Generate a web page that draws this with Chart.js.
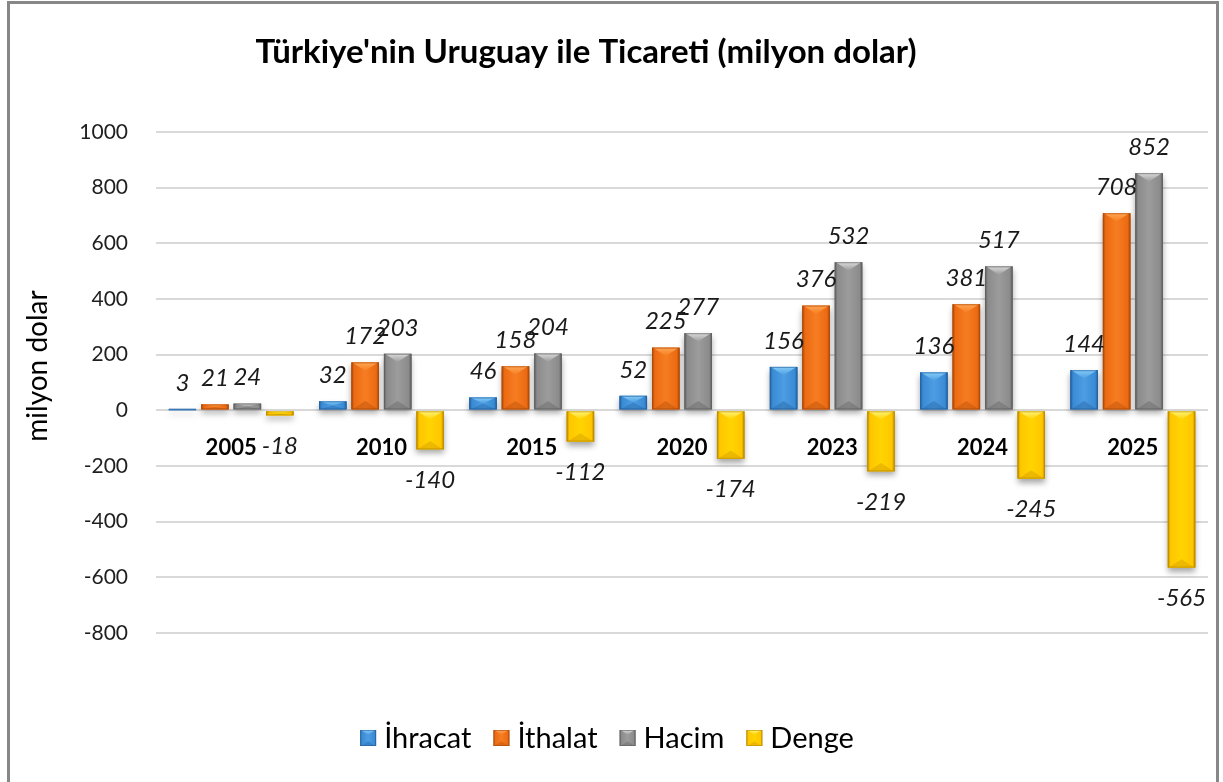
<!DOCTYPE html>
<html><head><meta charset="utf-8">
<style>html,body{margin:0;padding:0;background:#fff;overflow:hidden}</style>
<script src="https://cdn.jsdelivr.net/npm/chart.js@4.4.1/dist/chart.umd.min.js"></script>
</head><body>
<canvas id="c" width="1223" height="782"></canvas>
<script>
const titleText = "Türkiye'nin Uruguay ile Ticareti (milyon dolar)";
const yAxisTitle = "milyon dolar";
const categories = ['2005', '2010', '2015', '2020', '2023', '2024', '2025'];
const seriesNames = ['İhracat', 'İthalat', 'Hacim', 'Denge'];
const ihracat = [3, 32, 46, 52, 156, 136, 144];
const ithalat = [21, 172, 158, 225, 376, 381, 708];
const hacim = [24, 203, 204, 277, 532, 517, 852];
const denge = [-18, -140, -112, -174, -219, -245, -565];
const yMin = -800, yMax = 1000, yStep = 200;

const palette = [
  {base:'#3a8bd5', mid:'#4c9de2', edge:'#23609e', light:'#86ccf7', dark:'#2d6fae'},
  {base:'#ec6a12', mid:'#f67d22', edge:'#a9490a', light:'#ffa655', dark:'#c4570c'},
  {base:'#8b8b8b', mid:'#9c9c9c', edge:'#5e5e5e', light:'#dadada', dark:'#707070'},
  {base:'#ffc600', mid:'#ffd400', edge:'#b88a00', light:'#fff27a', dark:'#dca400'}
];
const FONT = 'Lato, "Noto Sans", sans-serif';

function bevelRect(ctx, x0, y0, x1, y1, c) {
  const w = x1 - x0, h = y1 - y0;
  if (w <= 0 || h <= 0) return;
  const g = ctx.createLinearGradient(x0, 0, x1, 0);
  g.addColorStop(0, c.edge); g.addColorStop(0.1, c.base); g.addColorStop(0.5, c.mid);
  g.addColorStop(0.9, c.base); g.addColorStop(1, c.edge);
  ctx.fillStyle = g; ctx.fillRect(x0, y0, w, h);
  const xc = (x0 + x1) / 2;
  const d = Math.min(w * 0.3, h / 2);
  const tg = ctx.createLinearGradient(0, y0, 0, y0 + d);
  tg.addColorStop(0, c.light); tg.addColorStop(1, c.mid);
  ctx.fillStyle = tg;
  ctx.beginPath(); ctx.moveTo(x0 + 1, y0); ctx.lineTo(x1 - 1, y0); ctx.lineTo(xc, y0 + d); ctx.closePath(); ctx.fill();
  ctx.fillStyle = c.dark; ctx.globalAlpha = 0.55;
  ctx.beginPath(); ctx.moveTo(x0 + 1, y1); ctx.lineTo(x1 - 1, y1); ctx.lineTo(xc, y1 - d); ctx.closePath(); ctx.fill();
  ctx.globalAlpha = 1;
  ctx.strokeStyle = c.edge; ctx.globalAlpha = 0.6; ctx.lineWidth = 1;
  ctx.strokeRect(x0 + 0.5, y0 + 0.5, w - 1, h - 1);
  ctx.globalAlpha = 1;
}

const framePlugin = {
  id: 'frame',
  beforeDraw(chart) {
    const ctx = chart.ctx;
    ctx.save();
    ctx.fillStyle = '#fff'; ctx.fillRect(0, 0, chart.width, chart.height);
    ctx.strokeStyle = '#878787'; ctx.lineWidth = 3;
    ctx.strokeRect(8.5, 2.5, 1209, 800);
    ctx.restore();
  },
  afterDraw(chart) {
    const ctx = chart.ctx;
    ctx.save();
    ctx.fillStyle = '#000';
    ctx.font = 'bold 33px ' + FONT;
    ctx.textAlign = 'center'; ctx.textBaseline = 'middle';
    ctx.fillText(titleText, 586, 52);
    ctx.save();
    ctx.translate(38, 366);
    ctx.rotate(-Math.PI / 2);
    ctx.font = '28px ' + FONT;
    ctx.fillText(yAxisTitle, 0, 0);
    ctx.restore();
    ctx.font = '29px ' + FONT;
    const box = 16, gapBox = 8, gapItem = 22;
    const widths = seriesNames.map(n => ctx.measureText(n).width);
    let total = 0;
    widths.forEach((w, i) => { total += box + gapBox + w + (i < widths.length - 1 ? gapItem : 0); });
    let x = 607 - total / 2;
    const cy = 738;
    ctx.textAlign = 'left';
    seriesNames.forEach((n, i) => {
      bevelRect(ctx, x, cy - box / 2, x + box, cy + box / 2, palette[i]);
      ctx.fillStyle = '#000';
      ctx.fillText(n, x + box + gapBox, cy + 1);
      x += box + gapBox + widths[i] + gapItem;
    });
    ctx.restore();
  }
};

const barPlugin = {
  id: 'bevelBars',
  afterDatasetsDraw(chart) {
    const ctx = chart.ctx;
    ctx.save();
    const metas = chart.data.datasets.map((d, i) => chart.getDatasetMeta(i));
    metas.forEach((meta, i) => {
      meta.data.forEach(el => {
        const p = el.getProps(['x', 'y', 'base', 'width'], true);
        const top = Math.min(p.y, p.base), bot = Math.max(p.y, p.base);
        ctx.save();
        ctx.shadowColor = 'rgba(0,0,0,0.35)'; ctx.shadowBlur = 6; ctx.shadowOffsetY = 4;
        ctx.fillStyle = palette[i].base;
        ctx.fillRect(p.x - p.width / 2, top, p.width, Math.max(bot - top, 1));
        ctx.restore();
      });
    });
    metas.forEach((meta, i) => {
      meta.data.forEach(el => {
        const p = el.getProps(['x', 'y', 'base', 'width'], true);
        const top = Math.min(p.y, p.base), bot = Math.max(p.y, p.base);
        bevelRect(ctx, p.x - p.width / 2, top, p.x + p.width / 2, bot, palette[i]);
      });
    });
    ctx.font = 'italic 24px ' + FONT;
    ctx.fillStyle = '#1a1a1a';
    ctx.textAlign = 'center'; ctx.textBaseline = 'middle';
    metas.forEach((meta, i) => {
      const data = chart.data.datasets[i].data;
      meta.data.forEach((el, j) => {
        const p = el.getProps(['x', 'y'], true);
        const v = data[j];
        ctx.fillText(String(v), p.x, v >= 0 ? p.y - 26 : p.y + 31);
      });
    });
    ctx.restore();
  }
};

const seriesData = [ihracat, ithalat, hacim, denge];
new Chart(document.getElementById('c'), {
  type: 'bar',
  data: {
    labels: categories,
    datasets: seriesNames.map((n, i) => ({
      label: n,
      data: seriesData[i],
      backgroundColor: palette[i].base,
      borderWidth: 0,
      categoryPercentage: 0.864,
      barPercentage: 0.846
    }))
  },
  options: {
    responsive: false,
    devicePixelRatio: 1,
    animation: false,
    layout: { padding: { top: 132, right: 15, bottom: 149, left: 0 } },
    plugins: { legend: { display: false }, title: { display: false }, tooltip: { enabled: false } },
    scales: {
      x: {
        position: { y: 0 },
        offset: true,
        grid: { display: false, drawTicks: false, tickLength: 0 },
        border: { display: false },
        ticks: { color: '#000', font: { family: FONT, weight: 'bold', size: 22 }, padding: 24, maxRotation: 0, autoSkip: false }
      },
      y: {
        min: yMin, max: yMax,
        afterFit(s) { s.width = 156; },
        ticks: { stepSize: yStep, color: '#1f1f1f', font: { family: FONT, size: 21 }, padding: 28,
                 callback: v => String(v) },
        grid: { color: '#d9d9d9', lineWidth: 2, drawTicks: false },
        border: { display: false },
        title: { display: false }
      }
    }
  },
  plugins: [framePlugin, barPlugin]
});
</script>
</body></html>
